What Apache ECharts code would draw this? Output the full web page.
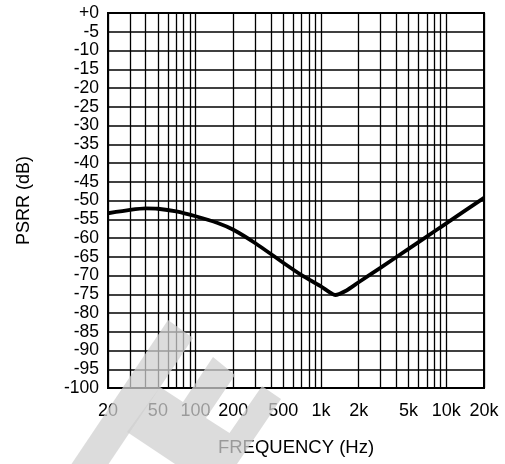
<!DOCTYPE html>
<html>
<head>
<meta charset="utf-8">
<script src="https://cdn.jsdelivr.net/npm/echarts@6/dist/echarts.min.js"></script>
<style>
  html, body { margin: 0; padding: 0; background: #fff; }
  #chart { width: 505px; height: 464px; }
</style>
</head>
<body>
<div id="chart"></div>
<script>
// PSRR vs frequency
const freqHz = [20, 30, 40, 50, 70, 100, 150, 200, 300, 500, 700, 1000, 1300, 1600, 2000, 3000, 5000, 8400, 10000, 20000];
const psrrDb = [-53.4, -52.5, -52.1, -52.2, -52.9, -54.2, -56.0, -57.8, -61.4, -66.6, -69.9, -72.9, -75.2, -74.0, -71.8, -67.9, -62.9, -57.8, -56.1, -49.3];

// vertical grid lines (1..9 per decade) and labelled frequencies
const gridFreqs = [20, 30, 40, 50, 60, 70, 80, 90, 100, 200, 300, 400, 500, 600, 700, 800, 900,
  1000, 2000, 3000, 4000, 5000, 6000, 7000, 8000, 9000, 10000, 20000];
const labelFreqs = [20, 50, 100, 200, 500, 1000, 2000, 5000, 10000, 20000];

const FONT = 'Liberation Sans, Arial, sans-serif';

const chart = echarts.init(document.getElementById('chart'));

chart.setOption({
  animation: false,
  grid: {
    left: 108, top: 13, right: 21, bottom: 76,
    show: true, borderColor: '#000', borderWidth: 2, backgroundColor: 'transparent'
  },
  xAxis: {
    type: 'log', logBase: 10, min: 20, max: 20000,
    name: 'FREQUENCY (Hz)', nameLocation: 'middle', nameGap: 50,
    nameTextStyle: { color: '#000', fontSize: 18.5, fontFamily: FONT },
    axisLine: { show: false },
    axisTick: { show: false, customValues: gridFreqs },
    axisLabel: {
      customValues: labelFreqs, margin: 14,
      color: '#000', fontSize: 18, fontFamily: FONT,
      formatter: v => v >= 1000 ? Math.round(v / 1000) + 'k' : String(Math.round(v))
    },
    splitLine: { show: true, lineStyle: { color: '#000', width: 1.3 } }
  },
  yAxis: {
    type: 'value', min: -100, max: 0, interval: 5,
    name: 'PSRR (dB)', nameLocation: 'middle', nameGap: 75, nameRotate: 90,
    nameTextStyle: { color: '#000', fontSize: 18, fontFamily: FONT },
    axisLine: { show: false },
    axisTick: { show: false },
    axisLabel: {
      margin: 9, color: '#000', fontSize: 17.5, fontFamily: FONT,
      formatter: v => v === 0 ? '+0' : String(v)
    },
    splitLine: { show: true, lineStyle: { color: '#000', width: 1.6 } }
  },
  series: [{
    type: 'line',
    data: freqHz.map((f, i) => [f, psrrDb[i]]),
    showSymbol: false,
    smooth: 0.2,
    lineStyle: { color: '#000', width: 3.8 },
    z: 5
  }],
  graphic: [{
    // light watermark laid over the lower-left of the figure
    type: 'polygon', z: 100, silent: true,
    shape: { points: [[168, 320], [193, 338], [108.6, 464], [71.5, 464]] },
    style: { fill: 'rgba(208,208,208,0.74)' }
  }, {
    type: 'polygon', z: 100, silent: true,
    shape: {
      points: [[160, 387], [183, 402], [213, 357], [235, 375], [206, 418], [229.5, 433],
        [262, 386], [281, 399], [237, 464], [175, 464], [127, 432]]
    },
    style: { fill: 'rgba(208,208,208,0.74)' }
  }]
});
</script>
</body>
</html>
